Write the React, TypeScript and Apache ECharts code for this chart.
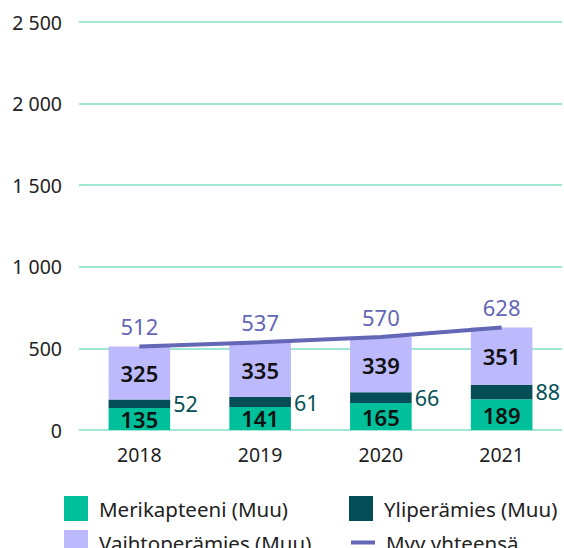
import React, { useEffect, useRef } from "react";
import * as echarts from "echarts";

const years = ["2018", "2019", "2020", "2021"];
const merikapteeni = [135, 141, 165, 189];
const yliperamies = [52, 61, 66, 88];
const vaihtoperamies = [325, 335, 339, 351];
const yhteensa = [512, 537, 570, 628];

const FONT = "'Noto Sans', sans-serif";
const C_MERI = "#00bf9b";
const C_YLI = "#044f57";
const C_VAIHTO = "#bcb9fc";
const C_LINE = "#6467b5";
const C_GRID = "#84dcc9";

const legendBase = {
  orient: "horizontal",
  itemWidth: 24,
  itemHeight: 25,
  textStyle: { fontSize: 20.5, color: "#222", fontFamily: FONT, padding: [0, 0, 0, 6] },
};

export default function App() {
  const ref = useRef<HTMLDivElement>(null);
  useEffect(() => {
    document.body.style.margin = "0";
    if (!ref.current) return;
    const chart = echarts.init(ref.current, null, { renderer: "svg" });
    chart.setOption({
      animation: false,
      textStyle: { fontFamily: FONT },
      grid: { left: 79, right: 2, top: 22, bottom: 118, containLabel: false },
      legend: [
        { ...legendBase, left: 59, top: 491, data: [{ name: "Merikapteeni (Muu)", icon: "rect" }] },
        { ...legendBase, left: 59, top: 525, data: [{ name: "Vaihtoperämies (Muu)", icon: "rect" }] },
        { ...legendBase, left: 344, top: 491, data: [{ name: "Yliperämies (Muu)", icon: "rect" }] },
        {
          ...legendBase,
          left: 344,
          top: 527,
          lineStyle: { width: 4, color: C_LINE },
          data: [{ name: "Myy yhteensä", itemStyle: { opacity: 0 }, lineStyle: { width: 4, color: C_LINE } }],
        },
      ],
      xAxis: {
        type: "category",
        data: years,
        axisLine: { show: false },
        axisTick: { show: false },
        axisLabel: { fontSize: 19.5, color: "#222", margin: 14, fontFamily: FONT },
      },
      yAxis: {
        type: "value",
        min: 0,
        max: 2500,
        interval: 500,
        axisLine: { show: false },
        axisTick: { show: false },
        splitLine: { lineStyle: { color: C_GRID, width: 1.5 } },
        axisLabel: {
          fontSize: 19.5,
          color: "#222",
          margin: 17,
          fontFamily: FONT,
          formatter: (v: number) => String(v).replace(/\B(?=(\d{3})+(?!\d))/g, " "),
        },
      },
      series: [
        {
          name: "Merikapteeni (Muu)",
          type: "bar",
          stack: "s",
          data: merikapteeni,
          barWidth: "51%",
          itemStyle: { color: C_MERI },
          label: { show: true, position: "inside", color: "#111", fontSize: 22, fontWeight: 600, fontFamily: FONT },
        },
        {
          name: "Yliperämies (Muu)",
          type: "bar",
          stack: "s",
          data: yliperamies,
          itemStyle: { color: C_YLI },
          label: { show: true, position: "right", distance: 3, color: C_YLI, fontSize: 21.5, fontFamily: FONT },
        },
        {
          name: "Vaihtoperämies (Muu)",
          type: "bar",
          stack: "s",
          data: vaihtoperamies,
          itemStyle: { color: C_VAIHTO },
          label: { show: true, position: "inside", color: "#111", fontSize: 22, fontWeight: 600, fontFamily: FONT },
        },
        {
          name: "Myy yhteensä",
          type: "line",
          data: yhteensa,
          symbol: "circle",
          symbolSize: 0.1,
          showSymbol: true,
          z: 5,
          lineStyle: { color: C_LINE, width: 4 },
          itemStyle: { color: C_LINE },
          label: { show: true, position: "top", distance: 9, color: C_LINE, fontSize: 22, fontFamily: FONT },
        },
      ],
    });
    return () => chart.dispose();
  }, []);
  return <div ref={ref} style={{ width: 564, height: 548 }} />;
}
